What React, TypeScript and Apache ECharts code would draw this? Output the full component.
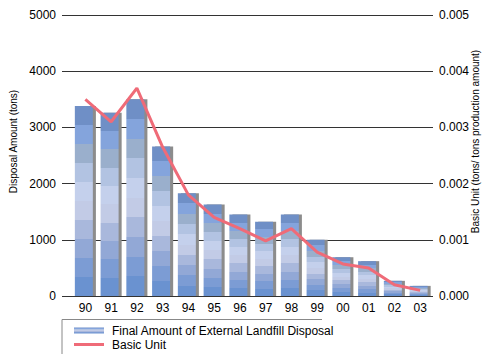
import React, { useEffect, useRef } from "react";
import * as echarts from "echarts";

const categories = ["90", "91", "92", "93", "94", "95", "96", "97", "98", "99", "00", "01", "02", "03"];
const disposalAmount = [3380, 3260, 3500, 2660, 1830, 1630, 1450, 1320, 1450, 1000, 690, 620, 270, 180];
const basicUnit = [0.0035, 0.0031, 0.0037, 0.00265, 0.0018, 0.0014, 0.0012, 0.00098, 0.0012, 0.00078, 0.00057, 0.0005, 0.0002, 0.0001];
const leftTicks = { min: 0, max: 5000, interval: 1000 };
const rightTicks = { min: 0, max: 0.005, interval: 0.001 };

const bandColors = ["#6f8fc6", "#84a4dc", "#9aafcc", "#b2c3e2", "#c4d0ec", "#c2cbe6", "#a9b8dc", "#92a8d6", "#7c9cd4", "#6a92d0"];

function bandGradient() {
  const stops: { offset: number; color: string }[] = [];
  const n = bandColors.length;
  bandColors.forEach((c, i) => {
    stops.push({ offset: i / n, color: c });
    stops.push({ offset: (i + 1) / n - 0.0001, color: c });
  });
  return new echarts.graphic.LinearGradient(0, 0, 0, 1, stops);
}

export default function App() {
  const ref = useRef<HTMLDivElement>(null);
  useEffect(() => {
    document.body.style.margin = "0";
    const chart = echarts.init(ref.current!, null, { renderer: "svg" });
    const font = "Liberation Sans";
    const tickFont = 12;
    chart.setOption({
      animation: false,
      textStyle: { fontFamily: font },
      grid: [
        { left: 62, right: 52, top: 15, bottom: 58, outerBoundsMode: "none" },
        { left: 72.5, right: 52, top: 15, bottom: 58, outerBoundsMode: "none" },
      ],
      legend: {
        orient: "vertical",
        left: 74,
        top: 324,
        itemWidth: 30,
        itemHeight: 6,
        itemGap: 1,
        padding: 0,
        textStyle: { fontFamily: font, fontSize: 12, lineHeight: 13, color: "#000", padding: [0, 0, 0, 3] },
        data: [
          { name: "Final Amount of External Landfill Disposal", icon: "rect" },
          { name: "Basic Unit", icon: "path://M0,0H30V3H0Z" },
        ],
      },
      graphic: [
        {
          type: "polyline",
          shape: { points: [[62, 360], [62, 319.5], [322, 319.5]] },
          style: { fill: "none", stroke: "#888", lineWidth: 1 },
          silent: true,
        },
      ],
      xAxis: [
        {
          type: "category",
          gridIndex: 0,
          data: categories,
          show: false,
        },
        {
          type: "category",
          gridIndex: 1,
          data: categories,
          axisTick: { show: false },
          axisLine: { show: false },
          axisLabel: { color: "#000", fontSize: tickFont, margin: 6 },
        },
      ],
      yAxis: [
        {
          type: "value",
          gridIndex: 0,
          ...leftTicks,
          name: "Disposal Amount (tons)",
          nameLocation: "middle",
          nameRotate: 90,
          nameGap: 44,
          nameMoveOverlap: false,
          nameTextStyle: { fontSize: 10, color: "#000", padding: [0, 0, 0, 28] },
          axisLine: { show: false },
          axisTick: { show: false },
          axisLabel: { color: "#000", fontSize: tickFont, margin: 6, formatter: (v: number) => String(v) },
          splitLine: { lineStyle: { color: "#333", width: 1 } },
        },
        {
          type: "value",
          gridIndex: 0,
          ...rightTicks,
          name: "Basic Unit (tons/ tons production amount)",
          nameLocation: "middle",
          nameRotate: 90,
          nameGap: 37,
          nameMoveOverlap: false,
          nameTextStyle: { fontSize: 10, color: "#000", padding: [0, 0, 0, 28], overflow: "none" },
          axisLine: { show: false },
          axisTick: { show: false },
          axisLabel: { color: "#000", fontSize: tickFont, margin: 6, formatter: (v: number) => v.toFixed(3) },
          splitLine: { show: false },
        },
        {
          type: "value",
          gridIndex: 1,
          ...leftTicks,
          show: false,
          splitLine: { show: false },
        },
        {
          type: "value",
          gridIndex: 1,
          ...rightTicks,
          position: "right",
          show: false,
          splitLine: { show: false },
        },
      ],
      series: [
        {
          name: "Final Amount of External Landfill Disposal",
          type: "bar",
          xAxisIndex: 1,
          yAxisIndex: 2,
          data: disposalAmount,
          barWidth: 18,
          barGap: "-83%",
          z: 3,
          itemStyle: { color: bandGradient() },
        },
        {
          name: "shadow",
          type: "bar",
          xAxisIndex: 1,
          yAxisIndex: 2,
          data: disposalAmount,
          barWidth: 18,
          z: 2,
          itemStyle: { color: "#8c8c8c" },
          silent: true,
        },
        {
          name: "Basic Unit",
          type: "line",
          xAxisIndex: 1,
          yAxisIndex: 3,
          data: basicUnit,
          symbol: "none",
          z: 5,
          lineStyle: { color: "#ef6b78", width: 3 },
          itemStyle: { color: "#ef6b78" },
        },
      ],
    });
    return () => chart.dispose();
  }, []);
  return <div ref={ref} style={{ width: 485, height: 354 }} />;
}
